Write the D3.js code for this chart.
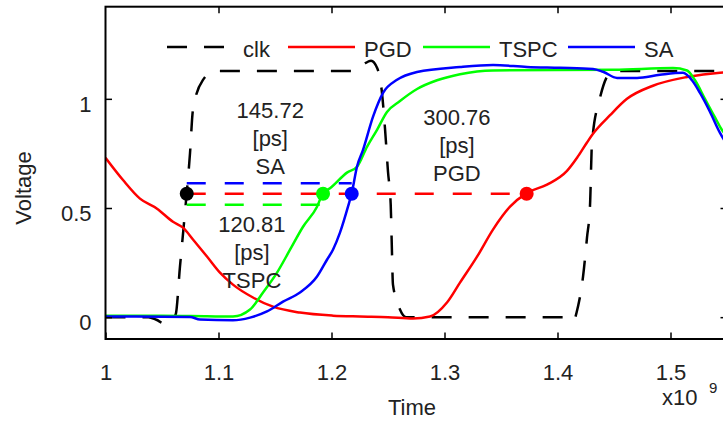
<!DOCTYPE html>
<html>
<head>
<meta charset="utf-8">
<title>Delay comparison</title>
<script src="https://cdn.jsdelivr.net/npm/d3@7"></script>
<style>
  body { margin: 0; background: #fff; }
  text { font-family: "Liberation Sans", Arial, sans-serif; font-size: 22px; fill: #222; }
  .curve { fill: none; stroke-width: 2.5px; stroke-linejoin: round; }
  .frame { stroke: #000; stroke-width: 2px; fill: none; }
  .axis line { stroke: #000; stroke-width: 1.5px; }
  .axis path { display: none; }
</style>
</head>
<body>
<svg width="723" height="423"></svg>
<script>
// time in units of 1e-9 (x10^9 on the axis), voltage in V
var clkT = [1.0, 1.038, 1.045, 1.052, 1.057, 1.0621, 1.0659, 1.0695, 1.0748, 1.0774, 1.0863, 1.0969, 1.11,
            1.222, 1.229, 1.235, 1.2405, 1.2444, 1.2473, 1.25, 1.2524, 1.2533, 1.2544, 1.2606, 1.266, 1.28,
            1.405, 1.4137, 1.4181, 1.4226, 1.4261, 1.4288, 1.4305, 1.4376, 1.4491, 1.46, 1.55];
var clkV = [0, 0, -0.012, -0.028, -0.02, 0.012, 0.231, 0.433, 0.752, 0.95, 1.087, 1.128, 1.128,
            1.128, 1.16, 1.175, 1.14, 1.04, 0.867, 0.666, 0.515, 0.341, 0.149, 0.035, 0, 0,
            0, -0.02, 0.048, 0.186, 0.364, 0.515, 0.798, 1.005, 1.128, 1.128, 1.128];

var pgdT = [1.0, 1.0155, 1.0305, 1.0456, 1.0597, 1.0686, 1.0774, 1.0898, 1.1013, 1.1128, 1.1305, 1.1482,
            1.1721, 1.2013, 1.2252, 1.25, 1.2721, 1.2872, 1.3022, 1.3137, 1.3288, 1.3429, 1.358, 1.3727,
            1.3907, 1.4084, 1.4173, 1.4261, 1.4314, 1.4465, 1.4615, 1.4845, 1.5146, 1.5438, 1.55];
var pgdV = [0.73, 0.628, 0.543, 0.497, 0.437, 0.41, 0.356, 0.278, 0.204, 0.149, 0.09, 0.048,
            0.021, 0.007, 0.003, 0.0, -0.006, 0.003, 0.067, 0.158, 0.277, 0.401, 0.506, 0.568,
            0.607, 0.67, 0.73, 0.8, 0.84, 0.925, 1.0, 1.06, 1.1, 1.12, 1.122];

var tspcT = [1.0, 1.05, 1.09, 1.1128, 1.1279, 1.1394, 1.1518, 1.1633, 1.1748, 1.1872, 1.1925, 1.1987,
             1.2137, 1.2226, 1.2314, 1.2403, 1.2491, 1.2606, 1.2757, 1.2934, 1.3137, 1.343, 1.45,
             1.5022, 1.5146, 1.5217, 1.5305, 1.5394, 1.5465, 1.55];
var tspcV = [0.006, 0.006, 0.004, 0.003, 0.035, 0.113, 0.204, 0.309, 0.414, 0.506, 0.568, 0.59,
             0.662, 0.689, 0.78, 0.858, 0.94, 0.99, 1.045, 1.085, 1.113, 1.13, 1.133,
             1.141, 1.13, 1.085, 1.0, 0.915, 0.85, 0.83];

var saT = [1.0, 1.0748, 1.0836, 1.1128, 1.1279, 1.1429, 1.1571, 1.1721, 1.1872, 1.196, 1.2013, 1.2075,
           1.2146, 1.2179, 1.2226, 1.2279, 1.2367, 1.2456, 1.258, 1.2757, 1.3137, 1.343, 1.373, 1.4022,
           1.4314, 1.4403, 1.4527, 1.4704, 1.4907, 1.5111, 1.519, 1.5261, 1.535, 1.5438, 1.55];
var saV = [0.003, 0.001, -0.011, -0.014, -0.002, 0.026, 0.071, 0.113, 0.186, 0.263, 0.309, 0.387,
           0.506, 0.568, 0.69, 0.766, 0.917, 1.027, 1.087, 1.123, 1.146, 1.155, 1.146, 1.142,
           1.137, 1.124, 1.096, 1.096, 1.11, 1.119, 1.085, 1.027, 0.94, 0.844, 0.79];

var seriesNames = ["clk", "PGD", "TSPC", "SA"];
var seriesColors = ["#000000", "#ff0000", "#00ff00", "#0000ff"];

// 50% crossing points: clk, TSPC, SA, PGD
var crossT = [1.0719, 1.1925, 1.2179, 1.3727];
var crossColors = ["#000000", "#00ff00", "#0000ff", "#ff0000"];
var crossV = 0.565;

var delayValues = ["145.72", "120.81", "300.76"];
var delayNames = ["SA", "TSPC", "PGD"];

var xTicks = [1, 1.1, 1.2, 1.3, 1.4, 1.5];
var yTicks = [0, 0.5, 1];

var svg = d3.select("svg");

var x = d3.scaleLinear().domain([1, 1.55]).range([105.5, 727]);
var y = d3.scaleLinear().domain([-0.1, 1.422]).range([339, 6.7]);

svg.append("defs").append("clipPath").attr("id", "plotclip")
  .append("rect")
  .attr("x", x(1)).attr("y", y(1.422))
  .attr("width", x(1.55) - x(1)).attr("height", y(-0.1) - y(1.422));

var plot = svg.append("g").attr("clip-path", "url(#plotclip)");

var line = d3.line()
  .x(function(d) { return x(d[0]); })
  .y(function(d) { return y(d[1]); })
  .curve(d3.curveMonotoneX);

var series = [d3.zip(clkT, clkV), d3.zip(pgdT, pgdV), d3.zip(tspcT, tspcV), d3.zip(saT, saV)];

plot.selectAll("path.curve")
  .data(series)
  .enter()
  .append("path")
  .classed("curve", true)
  .attr("stroke", function(d, i) { return seriesColors[i]; })
  .attr("stroke-dasharray", function(d, i) { return i === 0 ? "20,17" : null; })
  .attr("d", line);

// dashed measurement lines from the clk crossing to each output crossing
var measure = [
  { t: crossT[2], off: 0.048, color: "#0000ff" },
  { t: crossT[3], off: 0, color: "#ff0000" },
  { t: crossT[1], off: -0.05, color: "#00ff00" }
];
plot.selectAll("line.measure")
  .data(measure)
  .enter()
  .append("line")
  .attr("x1", x(crossT[0]))
  .attr("x2", function(d) { return x(d.t); })
  .attr("y1", function(d) { return y(crossV + d.off); })
  .attr("y2", function(d) { return y(crossV + d.off); })
  .attr("stroke", function(d) { return d.color; })
  .attr("stroke-width", 2.5)
  .attr("stroke-dasharray", "19,19");

plot.selectAll("circle.cross")
  .data(crossT)
  .enter()
  .append("circle")
  .attr("cx", function(d) { return x(d); })
  .attr("cy", y(crossV))
  .attr("r", 7)
  .attr("fill", function(d, i) { return crossColors[i]; });

// delay annotations (three lines each)
var annPos = [[1.1458, 0.913], [1.1296, 0.392], [1.311, 0.881]];
annPos.forEach(function(p, i) {
  var t = svg.append("text")
    .attr("text-anchor", "middle")
    .attr("x", x(p[0]))
    .attr("y", y(p[1]));
  [delayValues[i], "[ps]", delayNames[i]].forEach(function(s, k) {
    t.append("tspan").attr("x", x(p[0])).attr("dy", k === 0 ? 0 : 28).text(s);
  });
});

// legend
var legX = [167, 288, 423, 568];
var leg = svg.append("g");
seriesNames.forEach(function(name, i) {
  leg.append("line")
    .attr("x1", legX[i]).attr("x2", legX[i] + 67)
    .attr("y1", 47).attr("y2", 47)
    .attr("stroke", seriesColors[i])
    .attr("stroke-width", 2.5)
    .attr("stroke-dasharray", i === 0 ? "20,17" : null);
  leg.append("text")
    .attr("x", legX[i] + 76).attr("y", 57)
    .text(name);
});

// axes with inward ticks
svg.append("g").attr("class", "axis")
  .attr("transform", "translate(0," + y(-0.1) + ")")
  .call(d3.axisBottom(x).tickValues(xTicks).tickSize(-6.5).tickPadding(25)
    .tickFormat(function(d) { return d3.format("")(+d.toFixed(1)); }));
svg.append("g").attr("class", "axis")
  .attr("transform", "translate(0," + y(1.422) + ")")
  .call(d3.axisTop(x).tickValues(xTicks.slice(1)).tickSize(-6.5).tickFormat(""));
svg.append("g").attr("class", "axis")
  .attr("transform", "translate(" + x(1) + ",0)")
  .call(d3.axisLeft(y).tickValues(yTicks).tickSize(-6.5).tickPadding(14)
    .tickFormat(d3.format("")));
svg.append("g").attr("class", "axis")
  .attr("transform", "translate(" + x(1.55) + ",0)")
  .call(d3.axisRight(y).tickValues(yTicks).tickSize(-6.5).tickFormat(""));

svg.selectAll(".axis text")
  .attr("font-family", null).attr("font-size", null)
  .attr("fill", "#222");
svg.selectAll(".axis").filter(function(d, i) { return i === 2; })
  .selectAll("text").attr("dy", "0.58em");

svg.append("rect").classed("frame", true)
  .attr("x", x(1)).attr("y", y(1.422))
  .attr("width", x(1.55) - x(1)).attr("height", y(-0.1) - y(1.422));

// axis titles
svg.append("text")
  .attr("text-anchor", "middle")
  .attr("transform", "translate(31,188) rotate(-90)")
  .text("Voltage");
svg.append("text")
  .attr("text-anchor", "middle")
  .attr("x", 412).attr("y", 415)
  .text("Time");
svg.append("text")
  .attr("x", 662).attr("y", 405)
  .text("x10");
svg.append("text")
  .attr("x", 709).attr("y", 393)
  .style("font-size", "15px")
  .text("9");
</script>
</body>
</html>
